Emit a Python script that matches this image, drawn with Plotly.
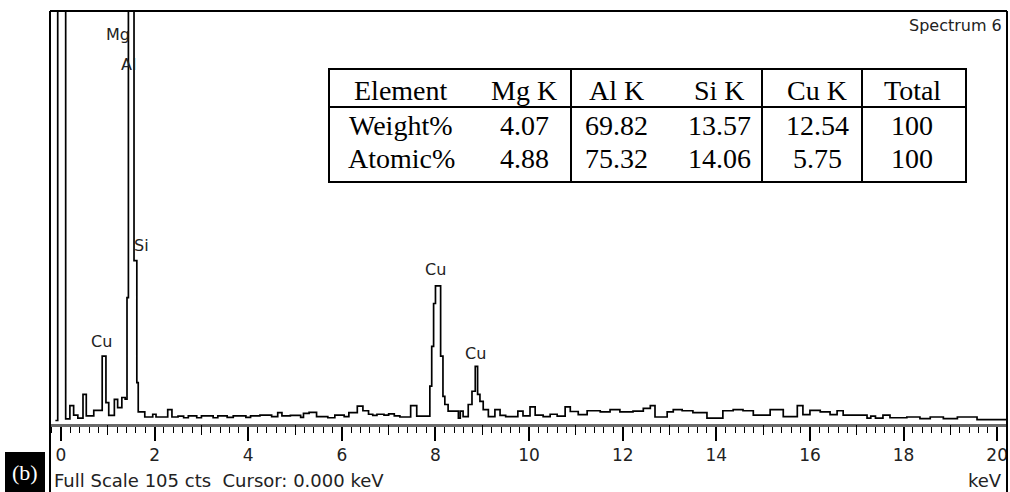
import plotly.graph_objects as go

# ---------------- data ----------------
# EDS spectrum as a piecewise-constant (step) trace: start energy of each step (keV) and counts
spectrum_start_kev = [
    -0.12, -0.07, 0.10, 0.19, 0.27, 0.36, 0.47, 0.54, 0.70, 0.88, 0.96, 1.02, 1.14, 1.21, 1.30,
    1.37, 1.41, 1.44, 1.56, 1.62, 1.65, 1.79, 1.96, 2.03, 2.28, 2.37, 2.50, 2.62, 2.72, 2.90,
    3.00, 3.25, 3.35, 3.55, 3.68, 3.95, 4.05, 4.25, 4.50, 4.63, 4.72, 4.90, 5.12, 5.18, 5.30,
    5.46, 5.70, 5.85, 6.05, 6.15, 6.33, 6.45, 6.57, 6.66, 6.75, 6.90, 7.00, 7.12, 7.24, 7.47,
    7.60, 7.88, 7.92, 7.96, 8.00, 8.11, 8.16, 8.20, 8.27, 8.49, 8.53, 8.59, 8.70, 8.78, 8.85,
    8.90, 8.95, 9.02, 9.13, 9.27, 9.38, 9.50, 9.76, 9.87, 10.02, 10.13, 10.30, 10.45, 10.60,
    10.77, 10.88, 11.05, 11.24, 11.52, 11.73, 11.94, 12.22, 12.44, 12.59, 12.69, 12.95, 13.08,
    13.27, 13.50, 13.80, 14.14, 14.36, 14.57, 14.79, 15.15, 15.43, 15.73, 15.85, 16.00, 16.22,
    16.43, 16.58, 16.71, 17.22, 17.30, 17.40, 17.56, 17.71, 18.07, 18.35, 18.57, 18.85, 19.15,
    19.57, 20.21,
]
spectrum_counts = [
    0.0, 300.0, 0.4, 3.8, 1.4, 0.6, 6.7, 1.2, 2.6, 16.5, 4.6, 1.3, 5.4, 3.3, 5.9,
    5.5, 31.5, 300.0, 41.0, 9.7, 2.2, 0.9, 1.6, 0.9, 2.8, 0.9, 1.1, 0.7, 1.2, 0.7,
    1.2, 0.7, 1.2, 0.8, 1.2, 0.8, 1.2, 1.4, 1.0, 2.0, 1.2, 1.3, 0.8, 1.8, 2.1,
    1.0, 0.7, 1.4, 1.0, 2.0, 3.7, 2.5, 1.6, 1.3, 1.6, 1.4, 1.7, 1.2, 0.9, 3.8,
    1.1, 8.8, 19.0, 30.0, 34.5, 16.5, 6.2, 4.1, 2.4, 0.6, 2.4, 1.0, 4.1, 7.5, 13.9,
    6.7, 4.9, 2.8, 1.0, 2.8, 1.3, 1.0, 2.4, 1.2, 3.5, 1.4, 1.0, 1.6, 1.1,
    3.5, 2.3, 1.5, 2.5, 2.2, 2.8, 2.2, 2.4, 3.1, 3.8, 0.9, 2.2, 2.8,
    2.5, 2.0, 0.6, 2.5, 2.8, 2.5, 1.4, 2.8, 1.0, 3.8, 1.5, 2.6, 2.2,
    1.5, 2.5, 1.4, 0.6, 1.1, 0.6, 1.4, 0.7, 0.9, 0.5, 0.9, 0.5, 0.9,
    0.2, 0.2,
]

# peak labels (element, energy keV, counts position)
peak_labels = ["Mg", "Al", "Si", "Cu", "Cu", "Cu"]
peak_label_kev = [1.21, 1.44, 1.71, 0.855, 8.01, 8.85]
peak_label_cts = [99.0, 91.3, 44.9, 20.2, 38.7, 17.2]

# x-axis ticks
major_ticks = [0, 2, 4, 6, 8, 10, 12, 14, 16, 18, 20]
mid_ticks = [1, 3, 5, 7, 9, 11, 13, 15, 17, 19]

# composition table
table_header = ["Element", "Mg K", "Al K", "Si K", "Cu K", "Total"]
row_labels = ["Weight%", "Atomic%"]
weight_pct = ["4.07", "69.82", "13.57", "12.54", "100"]
atomic_pct = ["4.88", "75.32", "14.06", "5.75", "100"]

full_scale_cts = 105

# ---------------- layout helpers (pixel -> paper) ----------------
W, H = 1010, 492
ML, MR, MT, MB = 50, 3, 11, 68
PW = W - ML - MR
PH = H - MT - MB


def pxx(x):
    return (x - ML) / PW


def pxy(y):
    return (H - MB - y) / PH


SANS = "DejaVu Sans, Arial, sans-serif"
SERIF = "Liberation Serif, Times New Roman, serif"

fig = go.Figure()
fig.add_trace(go.Scatter(
    x=spectrum_start_kev, y=spectrum_counts, mode="lines",
    line=dict(color="black", width=1.7, shape="hv"),
    hoverinfo="skip", showlegend=False,
))
# invisible trace so the secondary (mid-tick) axis is drawn
fig.add_trace(go.Scatter(x=[0], y=[None], xaxis="x2", mode="lines",
                         hoverinfo="skip", showlegend=False))


def ann(x, y, text, size, family=SANS, color="#222", xanchor="center", xref="paper", yref="paper"):
    return dict(x=x, y=y, xref=xref, yref=yref, text=text, showarrow=False,
                xanchor=xanchor, yanchor="middle",
                font=dict(family=family, size=size, color=color))


annotations = []
for lab, ex, cy in zip(peak_labels, peak_label_kev, peak_label_cts):
    annotations.append(ann(ex, cy, lab, 16, xref="x", yref="y"))

annotations.append(ann(pxx(1004), pxy(25), "Spectrum 6", 16, xanchor="right"))
annotations.append(ann(pxx(52), pxy(481), f"Full Scale {full_scale_cts} cts  Cursor: 0.000 keV",
                       18, xanchor="left"))
annotations.append(ann(pxx(1004), pxy(481), "keV", 18, xanchor="right"))
annotations.append(ann(pxx(25), pxy(472), "(b)", 22, family=SERIF, color="white"))

# table text
col_x = [401, 524, 616, 719, 817, 912]
row_y = [90, 125, 159]
rows = [table_header, [row_labels[0]] + weight_pct, [row_labels[1]] + atomic_pct]
for ry, row in zip(row_y, rows):
    for cx, txt in zip(col_x, row):
        annotations.append(ann(pxx(cx), pxy(ry), txt, 28, family=SERIF, color="black"))

shapes = []
# outer frame
frame = dict(type="line", xref="paper", yref="paper", line=dict(color="black", width=2))
shapes.append({**frame, "x0": pxx(50), "x1": pxx(50), "y0": pxy(492), "y1": pxy(11)})
shapes.append({**frame, "x0": pxx(50), "x1": pxx(1007), "y0": pxy(11), "y1": pxy(11)})
shapes.append({**frame, "x0": pxx(1007), "x1": pxx(1007), "y0": pxy(492), "y1": pxy(11)})
# (b) box
shapes.append(dict(type="rect", xref="paper", yref="paper", x0=pxx(5), x1=pxx(45),
                   y0=pxy(492), y1=pxy(452), fillcolor="black", line=dict(width=0)))
# table box and rules
tline = dict(color="black", width=2)
shapes.append(dict(type="rect", xref="paper", yref="paper", x0=pxx(329), x1=pxx(966),
                   y0=pxy(182), y1=pxy(69), line=tline, fillcolor="rgba(0,0,0,0)"))
shapes.append(dict(type="line", xref="paper", yref="paper", x0=pxx(329), x1=pxx(966),
                   y0=pxy(107), y1=pxy(107), line=tline))
for vx in [571, 762, 862]:
    shapes.append(dict(type="line", xref="paper", yref="paper", x0=pxx(vx), x1=pxx(vx),
                       y0=pxy(182), y1=pxy(69), line=tline))

xr = [-0.235, 20.21]
fig.update_layout(
    width=W, height=H, autosize=False,
    margin=dict(l=ML, r=MR, t=MT, b=MB, pad=0),
    paper_bgcolor="white", plot_bgcolor="white",
    showlegend=False,
    xaxis=dict(
        range=xr, showgrid=False, zeroline=False,
        showline=True, linecolor="#6a6a6a", linewidth=3,
        ticks="outside", tickvals=major_ticks, ticklen=14, tickwidth=1.5, tickcolor="black",
        tickfont=dict(family=SANS, size=17, color="#222"),
        minor=dict(dtick=0.2, tick0=0, ticks="outside", ticklen=6, tickwidth=1.2,
                   tickcolor="black", showgrid=False),
        fixedrange=True,
    ),
    xaxis2=dict(
        range=xr, overlaying="x", anchor="y", side="bottom", showgrid=False,
        zeroline=False, showline=False, ticks="outside", tickvals=mid_ticks,
        ticklen=10, tickwidth=1.3, tickcolor="black", showticklabels=False,
        fixedrange=True,
    ),
    yaxis=dict(range=[-0.9, full_scale_cts], visible=False, fixedrange=True),
    annotations=annotations,
    shapes=shapes,
)

fig.write_html("out.html", config={"displayModeBar": False},
               post_script="document.body.style.margin='0px';document.body.style.padding='0px';")
